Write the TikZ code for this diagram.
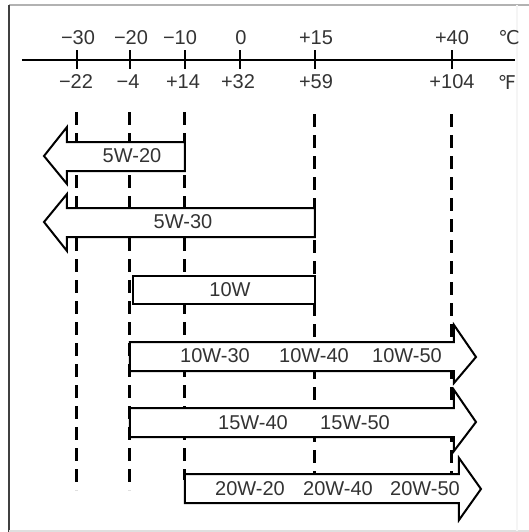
\documentclass[tikz,border=0pt]{standalone}
\usepackage{fontspec}
\setmainfont{Liberation Sans}
\newfontfamily\unitfont{DejaVu Sans}
\begin{document}
\begin{tikzpicture}[x=0.5pt, y=-0.5pt, font=\fontsize{10}{12}\selectfont,
        scalelabel/.style={text=black!80, inner sep=0pt},
        oilbar/.style={draw, fill=white, line width=1pt, line join=miter},
        guide/.style={line width=1.5pt, dash pattern=on 6.5pt off 4pt}]
    \useasboundingbox (0, 0) rectangle (529, 532);
    % frame
    \draw [gray!60, line width=1pt] (9, 5) -- (529, 5);
    \draw [black!75, line width=1.2pt] (9, 5) -- (9, 532);
    \draw [gray!25, line width=0.8pt] (9, 531) -- (529, 531);
    \draw [gray!8, line width=0.8pt] (517, 5) -- (517, 531);
    % temperature scale
    \draw [line width=1.2pt] (22, 60) -- (515, 60);
    \draw [line width=1.3pt] (77, 50) -- (77, 69);
    \draw [line width=1.3pt] (130, 50) -- (130, 69);
    \draw [line width=1.3pt] (185, 50) -- (185, 69);
    \draw [line width=1.3pt] (240, 50) -- (240, 69);
    \draw [line width=1.3pt] (315, 50) -- (315, 69);
    \draw [line width=1.3pt] (452, 50) -- (452, 69);
    \node [scalelabel] (c30) at (78, 38) {−30};
    \node [scalelabel] (c20) at (131, 38) {−20};
    \node [scalelabel] (c10) at (180, 38) {−10};
    \node [scalelabel] (c0) at (241, 38) {0};
    \node [scalelabel] (c15) at (316, 38) {+15};
    \node [scalelabel] (c40) at (452, 38) {+40};
    \node [scalelabel] (cunit) at (509, 38) {\unitfont\fontsize{9.5}{11}\selectfont ℃};
    \node [scalelabel] (f22) at (76, 82) {−22};
    \node [scalelabel] (f4) at (128, 82) {−4};
    \node [scalelabel] (f14) at (183, 82) {+14};
    \node [scalelabel] (f32) at (238, 82) {+32};
    \node [scalelabel] (f59) at (316, 82) {+59};
    \node [scalelabel] (f104) at (452, 82) {+104};
    \node [scalelabel] (funit) at (507, 82) {\unitfont\fontsize{9.5}{11}\selectfont ℉};
    % guide lines
    \draw [guide] (77, 112) -- (77, 490);
    \draw [guide] (130, 112) -- (130, 490);
    \draw [guide] (185, 112) -- (185, 480);
    \draw [guide] (315, 114) -- (315, 480);
    \draw [guide] (452, 114) -- (452, 480);
    % oil grades
    \draw [oilbar] (185, 142) -- (67, 142) -- (67, 127) -- (44, 156) -- (67, 184) -- (67, 171) -- (185, 171) -- cycle;
    \draw [oilbar] (315, 208) -- (67, 208) -- (67, 194) -- (44, 222) -- (67, 251) -- (67, 237) -- (315, 237) -- cycle;
    \draw [oilbar] (133, 276) rectangle (315, 304);
    \draw [oilbar] (130, 342) -- (454, 342) -- (454, 325) -- (476, 357) -- (454, 383) -- (454, 371) -- (130, 371) -- cycle;
    \draw [oilbar] (130, 408) -- (454, 408) -- (454, 390) -- (476, 422) -- (454, 451) -- (454, 437) -- (130, 437) -- cycle;
    \draw [oilbar] (185, 474) -- (459, 474) -- (459, 458) -- (481, 489) -- (459, 520) -- (459, 503) -- (185, 503) -- cycle;
    \node [scalelabel] (g5w20) at (132, 156) {5W-20};
    \node [scalelabel] (g5w30) at (183, 222) {5W-30};
    \node [scalelabel] (g10w) at (230, 290) {10W};
    \node [scalelabel] (g10w30) at (215, 356) {10W-30};
    \node [scalelabel] (g10w40) at (314, 356) {10W-40};
    \node [scalelabel] (g10w50) at (407, 356) {10W-50};
    \node [scalelabel] (g15w40) at (253, 423) {15W-40};
    \node [scalelabel] (g15w50) at (355, 423) {15W-50};
    \node [scalelabel] (g20w20) at (250, 489) {20W-20};
    \node [scalelabel] (g20w40) at (338, 489) {20W-40};
    \node [scalelabel] (g20w50) at (425, 489) {20W-50};
\end{tikzpicture}
\end{document}
